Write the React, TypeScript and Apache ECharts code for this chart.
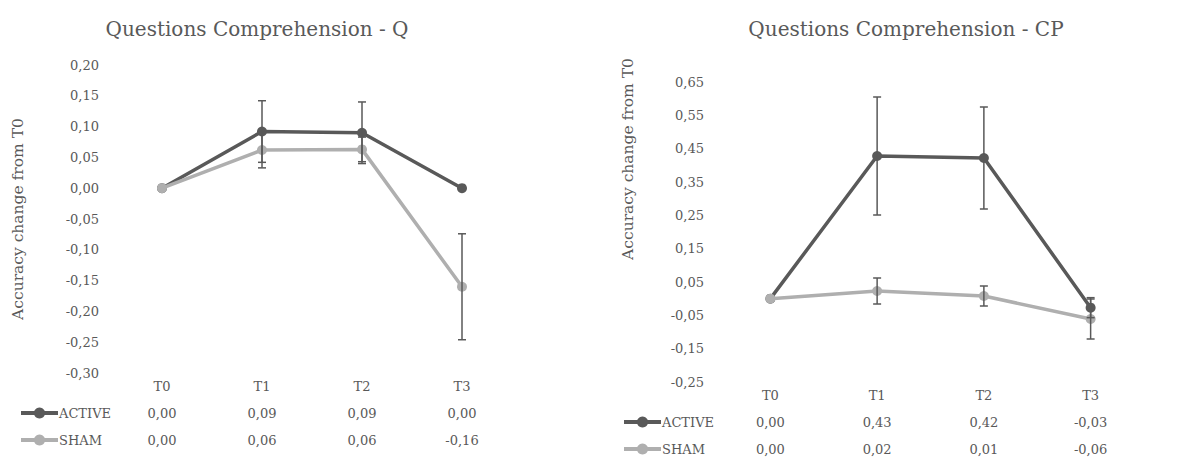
import React, { useEffect, useRef } from "react";
import * as echarts from "echarts";

const categories = ["T0", "T1", "T2", "T3"];
const seriesNames = ["ACTIVE", "SHAM"];

const qActive = [0, 0.092, 0.09, 0.0];
const qSham = [0, 0.062, 0.063, -0.16];
const qActiveErr = [0, 0.05, 0.05, 0];
const qShamErr = [0, 0.029, 0.02, 0.086];

const cpActive = [0, 0.428, 0.422, -0.027];
const cpSham = [0, 0.023, 0.008, -0.061];
const cpActiveErr = [0, 0.177, 0.153, 0.03];
const cpShamErr = [0, 0.039, 0.03, 0.06];

const titles = ["Questions Comprehension - Q", "Questions Comprehension - CP"];
const yAxisTitle = "Accuracy change from T0";

const ACTIVE_COLOR = "#595959";
const SHAM_COLOR = "#afafaf";
const TEXT = "#595959";
const FONT = "DejaVu Serif";

const fmt = (v: number) => v.toFixed(2).replace(".", ",");

function errData(vals: number[], errs: number[]) {
  return vals
    .map((v, i) => [i, v - errs[i], v + errs[i], errs[i]])
    .filter((d) => d[3] > 0)
    .map((d) => [d[0], d[1], d[2]]);
}

const renderErr = (params: any, api: any) => {
  const x = api.value(0);
  const lo = api.coord([x, api.value(1)]);
  const hi = api.coord([x, api.value(2)]);
  const cap = 4;
  const style = { stroke: ACTIVE_COLOR, lineWidth: 1.5 };
  return {
    type: "group",
    children: [
      { type: "line", shape: { x1: lo[0], y1: lo[1], x2: hi[0], y2: hi[1] }, style },
      { type: "line", shape: { x1: lo[0] - cap, y1: lo[1], x2: lo[0] + cap, y2: lo[1] }, style },
      { type: "line", shape: { x1: hi[0] - cap, y1: hi[1], x2: hi[0] + cap, y2: hi[1] }, style },
    ],
  };
};

export default function App() {
  const ref = useRef<HTMLDivElement>(null);
  useEffect(() => {
    if (!ref.current) return;
    const chart = echarts.init(ref.current, undefined, { renderer: "svg" });
    const tables = [
      [qActive, qSham],
      [cpActive, cpSham],
    ];
    const xAxisCommon = (gi: number) => ({
      type: "category",
      gridIndex: gi,
      data: categories,
      boundaryGap: true,
      axisLine: { show: false },
      axisTick: { show: false },
      axisLabel: {
        margin: 0,
        color: TEXT,
        fontFamily: FONT,
        fontSize: 13,
        lineHeight: 27,
        formatter: (val: string, idx: number) =>
          [val, fmt(tables[gi][0][idx]), fmt(tables[gi][1][idx])].join("\n"),
      },
    });
    const yAxisCommon = (gi: number, min: number, max: number, interval: number) => ({
      type: "value",
      gridIndex: gi,
      min,
      max,
      interval,
      axisLine: { show: false },
      axisTick: { show: false },
      splitLine: { show: false },
      axisLabel: {
        color: TEXT,
        fontFamily: FONT,
        fontSize: 13,
        margin: 13,
        formatter: (v: number) => fmt(v),
      },
    });
    const lineSeries = (name: string, data: number[], gi: number, color: string, z: number) => ({
      type: "line",
      name,
      xAxisIndex: gi,
      yAxisIndex: gi,
      data,
      symbol: "circle",
      symbolSize: 10,
      lineStyle: { color, width: 3.5 },
      itemStyle: { color },
      z,
    });
    const errSeries = (data: number[][], gi: number) => ({
      type: "custom",
      xAxisIndex: gi,
      yAxisIndex: gi,
      renderItem: renderErr,
      data,
      z: 10,
      silent: true,
    });
    const legendCommon = (left: number, top: number) => ({
      orient: "vertical",
      left,
      top,
      padding: 0,
      height: 60,
      data: seriesNames,
      itemWidth: 37,
      itemHeight: 14,
      itemGap: 13,
      lineStyle: { width: 4 },
      textStyle: { color: TEXT, fontFamily: FONT, fontSize: 13, lineHeight: 14, padding: [0, 0, 0, -4] },
    });
    chart.setOption({
      animation: false,
      textStyle: { fontFamily: FONT },
      title: [
        {
          text: titles[0],
          left: 252,
          top: 14,
          textAlign: "center",
          textStyle: { color: TEXT, fontFamily: FONT, fontSize: 20, fontWeight: "normal" },
        },
        {
          text: titles[1],
          left: 901,
          top: 14,
          textAlign: "center",
          textStyle: { color: TEXT, fontFamily: FONT, fontSize: 20, fontWeight: "normal" },
        },
      ],
      grid: [
        { left: 112, top: 65, width: 400, height: 308, outerBoundsMode: "none", containLabel: false },
        { left: 717, top: 82, width: 427, height: 300, outerBoundsMode: "none", containLabel: false },
      ],
      xAxis: [xAxisCommon(0), xAxisCommon(1)],
      yAxis: [yAxisCommon(0, -0.3, 0.2, 0.05), yAxisCommon(1, -0.25, 0.65, 0.1)],
      legend: [legendCommon(19, 406), legendCommon(622, 415)],
      graphic: [
        {
          type: "text",
          x: 18,
          y: 219,
          rotation: Math.PI / 2,
          style: { text: yAxisTitle, fill: TEXT, font: `15.5px "${FONT}"`, align: "center", verticalAlign: "middle" },
        },
        {
          type: "text",
          x: 628,
          y: 159,
          rotation: Math.PI / 2,
          style: { text: yAxisTitle, fill: TEXT, font: `15.5px "${FONT}"`, align: "center", verticalAlign: "middle" },
        },
      ],
      series: [
        lineSeries("ACTIVE", qActive, 0, ACTIVE_COLOR, 2),
        lineSeries("SHAM", qSham, 0, SHAM_COLOR, 3),
        errSeries(errData(qActive, qActiveErr), 0),
        errSeries(errData(qSham, qShamErr), 0),
        lineSeries("ACTIVE", cpActive, 1, ACTIVE_COLOR, 2),
        lineSeries("SHAM", cpSham, 1, SHAM_COLOR, 3),
        errSeries(errData(cpActive, cpActiveErr), 1),
        errSeries(errData(cpSham, cpShamErr), 1),
      ],
    });
    return () => chart.dispose();
  }, []);
  return <div ref={ref} style={{ width: 1179, height: 457, position: "absolute", left: 0, top: 0 }} />;
}
